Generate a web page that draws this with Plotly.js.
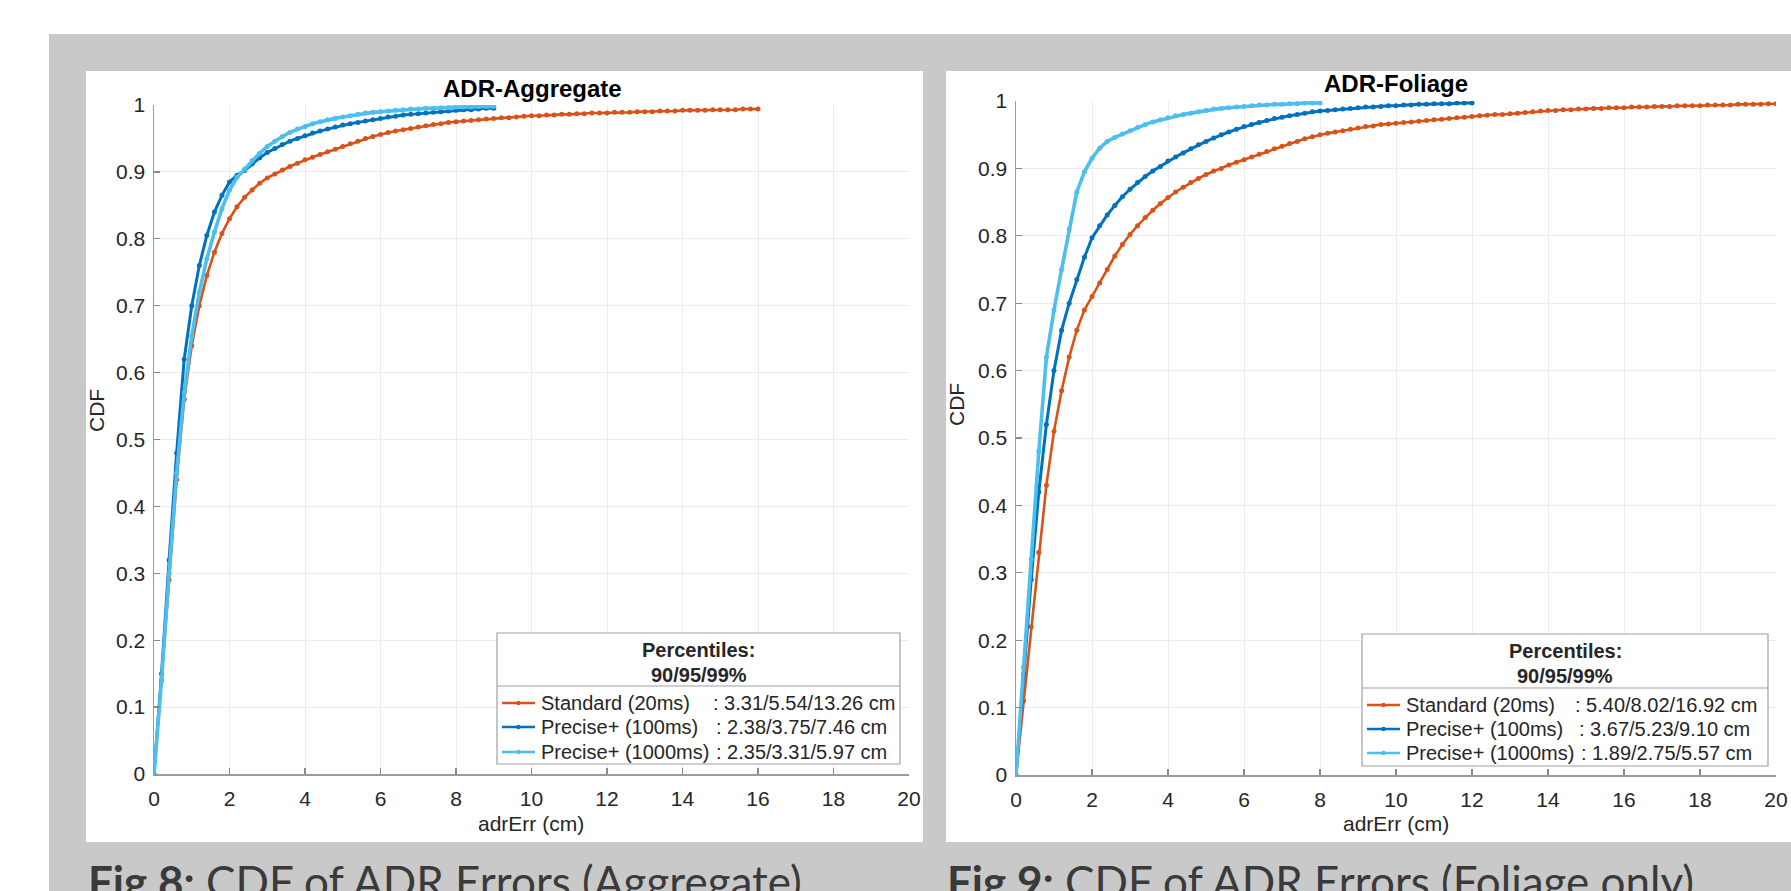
<!DOCTYPE html>
<html><head><meta charset="utf-8">
<script src="https://cdn.plot.ly/plotly-3.0.1.min.js"></script>
<style>html,body{margin:0;padding:0;background:#fff;}#chart{width:1791px;height:891px;}</style>
</head><body><div id="chart"></div>
<script>
// ---------- DATA ----------
const xGrid = [0,0.2,0.4,0.6,0.8,1,1.2,1.4,1.6,1.8,2,2.2,2.4,2.6,2.8,3,3.2,3.4,3.6,3.8,4,4.2,4.4,4.6,4.8,5,5.2,5.4,5.6,5.8,6,6.2,6.4,6.6,6.8,7,7.2,7.4,7.6,7.8,8,8.2,8.4,8.6,8.8,9,9.2,9.4,9.6,9.8,10,10.2,10.4,10.6,10.8,11,11.2,11.4,11.6,11.8,12,12.2,12.4,12.6,12.8,13,13.2,13.4,13.6,13.8,14,14.2,14.4,14.6,14.8,15,15.2,15.4,15.6,15.8,16,16.2,16.4,16.6,16.8,17,17.2,17.4,17.6,17.8,18,18.2,18.4,18.6,18.8,19,19.2,19.4,19.6,19.8,20];

// Aggregate (left)
const aggStandard = [0,0.14,0.29,0.44,0.56,0.64,0.70,0.745,0.78,0.808,0.83,0.848,0.862,0.873,0.883,0.891,0.897,0.903,0.908,0.913,0.918,0.922,0.926,0.930,0.934,0.938,0.942,0.946,0.950,0.953,0.956,0.959,0.961,0.963,0.965,0.967,0.969,0.971,0.972,0.974,0.975,0.976,0.977,0.978,0.979,0.980,0.981,0.981,0.982,0.983,0.984,0.984,0.985,0.985,0.986,0.986,0.987,0.987,0.988,0.988,0.988,0.989,0.989,0.989,0.990,0.990,0.990,0.991,0.991,0.991,0.992,0.992,0.992,0.992,0.993,0.993,0.993,0.993,0.994,0.994,0.994];
const aggPrecise100 = [0,0.15,0.32,0.48,0.62,0.70,0.76,0.805,0.84,0.865,0.885,0.895,0.902,0.912,0.921,0.929,0.935,0.941,0.946,0.950,0.954,0.958,0.961,0.964,0.967,0.970,0.972,0.974,0.976,0.978,0.980,0.982,0.983,0.985,0.986,0.987,0.988,0.989,0.990,0.991,0.992,0.993,0.993,0.994,0.995,0.995];
const aggPrecise1000 = [0,0.14,0.30,0.45,0.57,0.655,0.72,0.77,0.81,0.845,0.873,0.892,0.904,0.917,0.928,0.938,0.946,0.953,0.959,0.964,0.968,0.972,0.975,0.978,0.980,0.982,0.984,0.986,0.988,0.989,0.990,0.991,0.992,0.993,0.994,0.994,0.995,0.995,0.996,0.996,0.997,0.997,0.997,0.998,0.998,0.998];

// Foliage (right)
const folStandard = [0,0.11,0.22,0.33,0.43,0.51,0.57,0.62,0.66,0.69,0.71,0.73,0.75,0.77,0.787,0.802,0.815,0.827,0.838,0.848,0.857,0.865,0.872,0.879,0.885,0.891,0.896,0.900,0.905,0.909,0.913,0.917,0.921,0.925,0.929,0.933,0.937,0.940,0.944,0.947,0.950,0.952,0.954,0.956,0.958,0.960,0.962,0.963,0.965,0.966,0.967,0.968,0.969,0.970,0.971,0.972,0.973,0.974,0.975,0.976,0.977,0.978,0.979,0.980,0.980,0.981,0.982,0.983,0.984,0.985,0.986,0.986,0.987,0.987,0.988,0.988,0.989,0.989,0.990,0.990,0.990,0.991,0.991,0.991,0.992,0.992,0.992,0.993,0.993,0.993,0.993,0.994,0.994,0.994,0.994,0.995,0.995,0.995,0.995,0.996,0.996];
const folPrecise100 = [0,0.15,0.29,0.42,0.52,0.60,0.66,0.70,0.735,0.768,0.797,0.815,0.831,0.845,0.858,0.869,0.879,0.888,0.896,0.903,0.911,0.917,0.923,0.929,0.935,0.940,0.945,0.950,0.954,0.958,0.962,0.965,0.968,0.971,0.974,0.976,0.978,0.980,0.982,0.984,0.985,0.986,0.987,0.988,0.989,0.990,0.991,0.991,0.992,0.993,0.993,0.994,0.994,0.995,0.995,0.996,0.996,0.996,0.997,0.997,0.997];
const folPrecise1000 = [0,0.16,0.32,0.48,0.62,0.69,0.75,0.81,0.865,0.895,0.915,0.93,0.94,0.946,0.951,0.956,0.961,0.965,0.969,0.972,0.975,0.978,0.980,0.982,0.984,0.986,0.988,0.989,0.990,0.991,0.992,0.993,0.994,0.994,0.995,0.995,0.996,0.996,0.997,0.997,0.997];

const seriesNames = ["Standard (20ms)", "Precise+ (100ms)", "Precise+ (1000ms)"];
const aggPercentiles = [": 3.31/5.54/13.26 cm", ": 2.38/3.75/7.46 cm", ": 2.35/3.31/5.97 cm"];
const folPercentiles = [": 5.40/8.02/16.92 cm", ": 3.67/5.23/9.10 cm", ": 1.89/2.75/5.57 cm"];
const chartTitles = ["ADR-Aggregate", "ADR-Foliage"];
const captions = [["Fig 8:", "CDF of ADR Errors (Aggregate)"], ["Fig 9:", "CDF of ADR Errors (Foliage only)"]];
const legendHeader = ["Percentiles:", "90/95/99%"];
const xTickVals = [0,2,4,6,8,10,12,14,16,18,20];
const xTickText = ["0","2","4","6","8","10","12","14","16","18","20"];
const yTickVals = [0,0.1,0.2,0.3,0.4,0.5,0.6,0.7,0.8,0.9,1];
const yTickText = ["0","0.1","0.2","0.3","0.4","0.5","0.6","0.7","0.8","0.9","1"];
const xLabel = "adrErr (cm)";
const yLabel = "CDF";

// ---------- STYLE ----------
const W = 1791, H = 891;
const px = v => v / W, py = v => 1 - v / H;
const colors = ["#D95319", "#0072BD", "#4DBEEE"];
const widths = [2.6, 3.0, 3.6];
const FONT = "Liberation Sans, Arial, Helvetica, sans-serif";
const TXT = "#262626";

function mk(ys, i, xa, ya) {
  return {
    x: xGrid.slice(0, ys.length), y: ys, xaxis: xa, yaxis: ya,
    type: "scatter", mode: "lines+markers", name: seriesNames[i], showlegend: false,
    line: {color: colors[i], width: widths[i]},
    marker: {color: colors[i], size: 5, symbol: "circle"},
    hoverinfo: "skip"
  };
}
const data = [
  mk(aggStandard, 0, "x", "y"), mk(aggPrecise100, 1, "x", "y"), mk(aggPrecise1000, 2, "x", "y"),
  mk(folStandard, 0, "x2", "y2"), mk(folPrecise100, 1, "x2", "y2"), mk(folPrecise1000, 2, "x2", "y2")
];

function xax(d0, d1, anchor) {
  return {domain: [px(d0), px(d1)], range: [0, 20], anchor: anchor,
    tickvals: xTickVals, ticktext: xTickText, ticks: "inside", ticklen: 6, tickwidth: 1.2, tickcolor: "#8a8a8a",
    showline: true, linecolor: "#9a9a9a", linewidth: 1.5, showgrid: true, gridcolor: "#ececec", gridwidth: 1,
    zeroline: false, tickfont: {family: FONT, size: 21, color: TXT}, ticklabelstandoff: 5, fixedrange: true};
}
function yax(d0, d1, anchor) {
  return {domain: [py(d0), py(d1)], range: [0, 1], anchor: anchor,
    tickvals: yTickVals, ticktext: yTickText, ticks: "inside", ticklen: 6, tickwidth: 1.2, tickcolor: "#8a8a8a",
    showline: true, linecolor: "#9a9a9a", linewidth: 1.5, showgrid: true, gridcolor: "#ececec", gridwidth: 1,
    zeroline: false, tickfont: {family: FONT, size: 21, color: TXT}, ticklabelstandoff: 3, fixedrange: true};
}

const shapes = [];
function rect(x0, y0, x1, y1, fill, line, layer) {
  shapes.push({type: "rect", xref: "paper", yref: "paper", x0: px(x0), x1: px(x1), y0: py(y1), y1: py(y0),
    fillcolor: fill, line: line || {width: 0}, layer: layer || "below"});
}
function seg(x0, y0, x1, y1, color, w) {
  shapes.push({type: "line", xref: "paper", yref: "paper", x0: px(x0), x1: px(x1), y0: py(y0), y1: py(y1),
    line: {color: color, width: w}, layer: "above"});
}
function dot(cx, cy, r, color) {
  shapes.push({type: "circle", xref: "paper", yref: "paper", x0: px(cx - r), x1: px(cx + r), y0: py(cy + r), y1: py(cy - r),
    fillcolor: color, line: {width: 0}, layer: "above"});
}
rect(49, 34, 1791, 891, "#c9c9c9");
rect(86, 71, 923, 842, "#ffffff");
rect(946, 71, 1800, 842, "#ffffff");

const annotations = [];
function txt(x, y, text, opts) {
  annotations.push(Object.assign({xref: "paper", yref: "paper", x: px(x), y: py(y), text: text, showarrow: false,
    xanchor: "center", yanchor: "middle", font: {family: FONT, size: 21, color: TXT}}, opts || {}));
}

function legendBlock(bx0, by0, bx1, by1, divY, headY, entryY, lineX0, lineX1, nameX, valX, vals) {
  rect(bx0, by0, bx1, by1, "#ffffff", {color: "#a0a0a0", width: 1.2}, "above");
  seg(bx0, divY, bx1, divY, "#a0a0a0", 1.2);
  const cx = (bx0 + bx1) / 2;
  const LF = {family: FONT, size: 20, color: TXT};
  txt(cx, headY[0], "<b>" + legendHeader[0] + "</b>", {font: LF});
  txt(cx, headY[1], "<b>" + legendHeader[1] + "</b>", {font: LF});
  for (let i = 0; i < 3; i++) {
    seg(lineX0, entryY[i], lineX1, entryY[i], colors[i], 2.6);
    dot((lineX0 + lineX1) / 2, entryY[i], 2.2, colors[i]);
    txt(nameX, entryY[i], seriesNames[i], {xanchor: "left", font: LF});
    txt(valX[i], entryY[i], vals[i], {xanchor: "left", font: LF});
  }
}
legendBlock(497, 633, 900, 764, 686, [650, 675], [703, 727, 752], 502, 535, 539, [711, 714, 714], aggPercentiles);
legendBlock(1362, 634, 1768, 766, 688, [651, 676], [705, 729, 753], 1367, 1400, 1404, [1573, 1577, 1579], folPercentiles);

// titles & axis labels
const TF = {family: FONT, size: 24, color: "#000"};
txt(532, 88, "<b>" + chartTitles[0] + "</b>", {font: TF});
txt(1396, 83, "<b>" + chartTitles[1] + "</b>", {font: TF});
txt(531, 823, xLabel);
txt(1396, 823, xLabel);
txt(96, 411, yLabel, {textangle: -90});
txt(956, 405, yLabel, {textangle: -90});
// captions
const CAPFONT = {family: "Lato, Open Sans, sans-serif", size: 44, color: "#3a3a3a"};
txt(86, 853, "<b>" + captions[0][0] + "</b> " + captions[0][1], {xanchor: "left", yanchor: "top", font: CAPFONT});
txt(945, 853, "<b>" + captions[1][0] + "</b> " + captions[1][1], {xanchor: "left", yanchor: "top", font: CAPFONT});

const layout = {
  width: W, height: H, margin: {l: 0, r: 0, t: 0, b: 0},
  paper_bgcolor: "#ffffff", plot_bgcolor: "rgba(0,0,0,0)",
  showlegend: false,
  xaxis: xax(154, 909, "y"), yaxis: yax(774, 105, "x"),
  xaxis2: xax(1016, 1776, "y2"), yaxis2: yax(775, 101, "x2"),
  shapes: shapes, annotations: annotations
};
Plotly.newPlot("chart", data, layout, {staticPlot: true, displayModeBar: false});
</script>
</body></html>
